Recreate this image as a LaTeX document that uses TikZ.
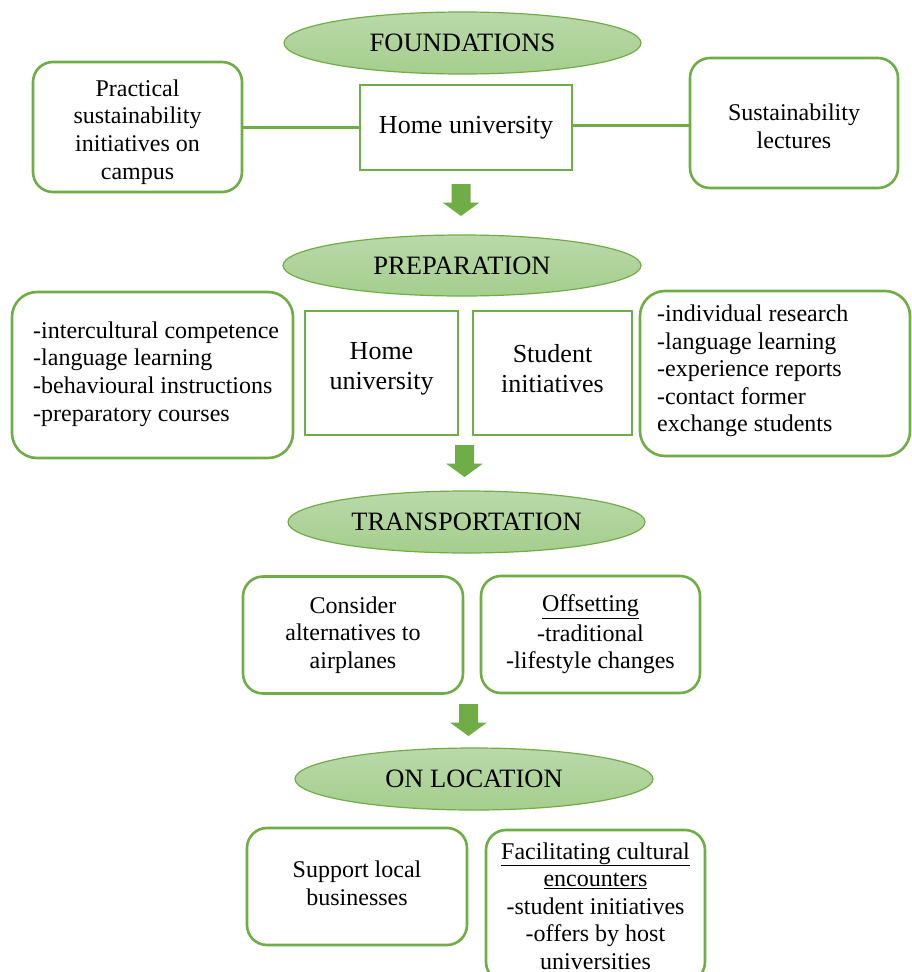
\documentclass[tikz,border=0pt]{standalone}
\usepackage{fontspec}
\setmainfont{Liberation Serif}
\usetikzlibrary{shapes.geometric}
\definecolor{grn}{HTML}{70AD47}
\definecolor{elltop}{HTML}{BAD9AA}
\definecolor{ellbot}{HTML}{A5CE8D}
\tikzset{
  x=1pt, y=-1pt,
  stage/.style={ellipse, draw=grn, line width=1.2pt, top color=elltop, bottom color=ellbot,
    inner sep=0pt, font=\fontsize{26.5}{30}\selectfont},
  rbox/.style={draw=grn, line width=2.6pt, rounded corners=20pt, fill=white, inner sep=0pt,
    align=center, font=\fontsize{24}{27.6}\selectfont},
  sbox/.style={draw=grn, line width=2.6pt, fill=white, inner sep=0pt,
    align=center, font=\fontsize{26}{30}\selectfont},
  boxtext/.style={inner sep=0pt, align=center, font=\fontsize{24}{27.6}\selectfont},
  listtext/.style={inner sep=0pt, align=left, anchor=west, font=\fontsize{24}{27.6}\selectfont},
  link/.style={draw=grn, line width=3pt},
  downarrow/.pic={\fill[grn] (-9.5,0) -- (9.5,0) -- (9.5,18.5) -- (18.5,18.5) -- (0,32)
     -- (-18.5,18.5) -- (-9.5,18.5) -- cycle;}
}
\begin{document}
\begin{tikzpicture}
\useasboundingbox[fill=white] (0,0) rectangle (911,972);

% FOUNDATIONS
\node[stage, minimum width=357pt, minimum height=62pt] (found) at (462.5,43) {FOUNDATIONS};
\node[rbox, minimum width=209pt, minimum height=130pt] (prac) at (137.5,127) {};
\node[boxtext] (practxt) at ([yshift=-5pt]prac.center)
  {Practical\\sustainability\\initiatives on\\campus};
\node[sbox, minimum width=212pt, minimum height=85pt] (home1) at (466,127.5) {Home university};
\node[rbox, minimum width=208pt, minimum height=130pt] (lect) at (794,123) {};
\node[boxtext] (lecttxt) at ([yshift=-3pt]lect.center)
  {Sustainability\\lectures};
\draw[link] (prac.east |- 0,127) -- (home1.west |- 0,127);
\draw[link] (home1.east |- 0,125) -- (lect.west |- 0,125);

\coordinate (a1) at (461,184);
\pic at (a1) {downarrow};

% PREPARATION
\node[stage, minimum width=358pt, minimum height=61pt] (prep) at (462,265.5) {PREPARATION};
\node[rbox, rounded corners=25pt, minimum width=281pt, minimum height=166pt] (pleft) at (152.5,375) {};
\node[listtext] (plefttxt) at (33,374)
  {-intercultural competence\\-language learning\\-behavioural instructions\\-preparatory courses};
\node[sbox, minimum width=153pt, minimum height=124pt] (home2) at (381.5,373) {};
\node[boxtext, font=\fontsize{26}{30}\selectfont] (home2txt) at ([yshift=4pt]home2.center) {Home\\university};
\node[sbox, minimum width=159pt, minimum height=124pt] (stud) at (552.5,373) {};
\node[boxtext, font=\fontsize{26}{30}\selectfont] (studtxt) at ([yshift=4pt]stud.center) {Student\\initiatives};
\node[rbox, rounded corners=25pt, minimum width=270pt, minimum height=165pt] (pright) at (775,373.5) {};
\node[listtext] (prighttxt) at (657,371)
  {-individual research\\-language learning\\-experience reports\\-contact former\\exchange students};

\coordinate (a2) at (464.5,445);
\pic at (a2) {downarrow};

% TRANSPORTATION
\node[stage, minimum width=357pt, minimum height=62pt] (trans) at (466.5,522) {TRANSPORTATION};
\node[rbox, minimum width=220pt, minimum height=117pt] (alt) at (353,635)
  {Consider\\alternatives to\\airplanes};
\node[rbox, minimum width=219pt, minimum height=117pt] (offs) at (590.5,634.5)
  {\underline{Offsetting}\\[2pt]-traditional\\-lifestyle changes};

\coordinate (a3) at (468.5,704);
\pic at (a3) {downarrow};

% ON LOCATION
\node[stage, minimum width=358pt, minimum height=62pt] (onloc) at (474,779) {ON LOCATION};
\node[rbox, minimum width=220pt, minimum height=117pt] (supp) at (357,886.5) {};
\node[boxtext] (supptxt) at ([yshift=3pt]supp.center)
  {Support local\\businesses};
\node[rbox, minimum width=219pt, minimum height=152pt] (faci) at (595.5,906)
  {\underline{Facilitating cultural}\\\underline{encounters}\\-student initiatives\\-offers by host\\universities};
\end{tikzpicture}
\end{document}
